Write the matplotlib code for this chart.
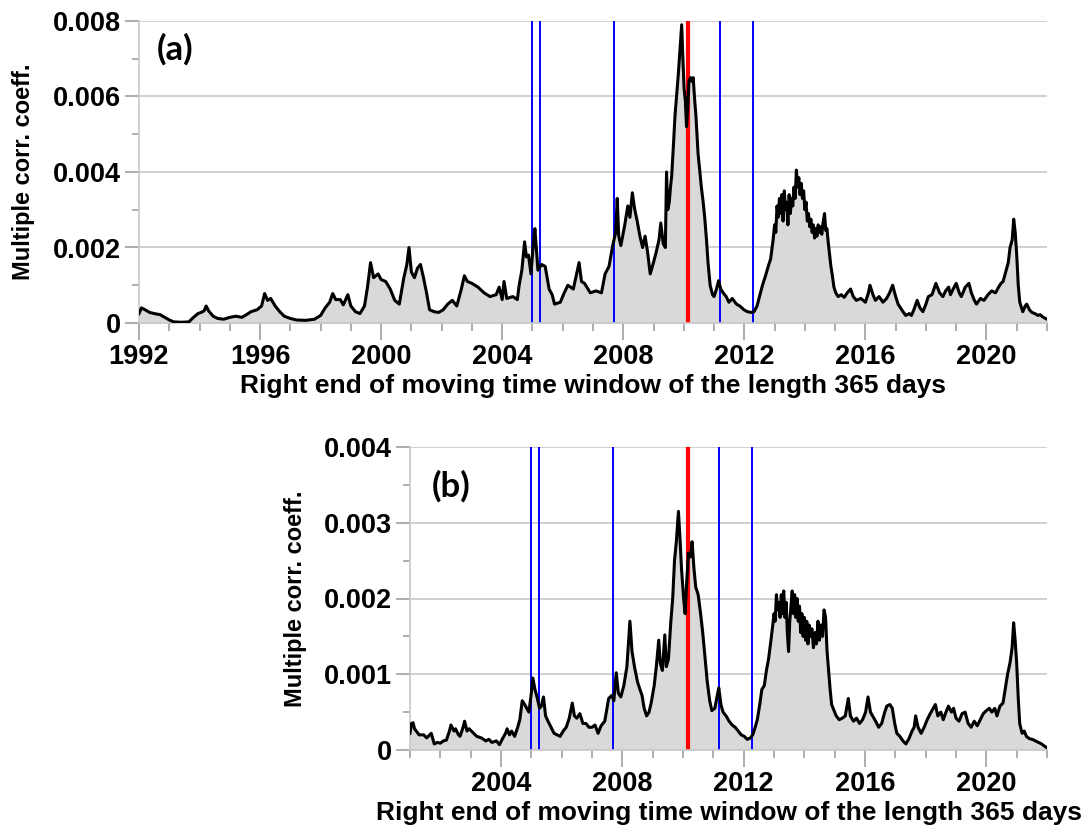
import numpy as np
import matplotlib
matplotlib.use("Agg")
import matplotlib.pyplot as plt
from matplotlib.ticker import MultipleLocator

# values, y in units of 1e-3
a_years = [
    1992.0, 1992.08, 1992.2, 1992.35, 1992.5, 1992.7, 1992.85, 1993.0, 1993.15, 1993.4,
    1993.65, 1993.8, 1993.95, 1994.05, 1994.15, 1994.22, 1994.3, 1994.45, 1994.6, 1994.8,
    1995.0, 1995.2, 1995.4, 1995.55, 1995.7, 1995.9, 1996.05, 1996.15, 1996.25, 1996.35,
    1996.5, 1996.65, 1996.8, 1997.0, 1997.2, 1997.5, 1997.8, 1998.0, 1998.15, 1998.3,
    1998.4, 1998.5, 1998.65, 1998.75, 1998.9, 1999.0, 1999.15, 1999.3, 1999.45, 1999.55,
    1999.65, 1999.75, 1999.9, 2000.0, 2000.15, 2000.3, 2000.45, 2000.6, 2000.75, 2000.85,
    2000.92, 2001.0, 2001.1, 2001.2, 2001.3, 2001.4, 2001.5, 2001.6, 2001.75, 2001.9,
    2002.05, 2002.2, 2002.35, 2002.5, 2002.65, 2002.75, 2002.85, 2003.0, 2003.2, 2003.4,
    2003.6, 2003.8, 2003.9, 2004.0, 2004.06, 2004.15, 2004.35, 2004.5, 2004.56, 2004.65,
    2004.74, 2004.8, 2004.87, 2004.95, 2005.03, 2005.08, 2005.18, 2005.3, 2005.42, 2005.55,
    2005.65, 2005.73, 2005.92, 2006.05, 2006.17, 2006.35, 2006.54, 2006.62, 2006.72, 2006.91,
    2007.1, 2007.28, 2007.4, 2007.53, 2007.65, 2007.75, 2007.8, 2007.85, 2007.92, 2008.05,
    2008.15, 2008.22, 2008.3, 2008.38, 2008.46, 2008.55, 2008.64, 2008.72, 2008.8, 2008.89,
    2008.98, 2009.08, 2009.18, 2009.24, 2009.32, 2009.39, 2009.43, 2009.47, 2009.52, 2009.56,
    2009.6, 2009.65, 2009.71, 2009.76, 2009.82, 2009.87, 2009.93, 2009.97, 2010.01, 2010.05,
    2010.09, 2010.13, 2010.17, 2010.22, 2010.27, 2010.31, 2010.36, 2010.4, 2010.47, 2010.53,
    2010.58, 2010.64, 2010.69, 2010.75, 2010.8, 2010.87, 2010.95, 2011.0, 2011.08, 2011.15,
    2011.22, 2011.3, 2011.4, 2011.49, 2011.6, 2011.74, 2011.85, 2011.99, 2012.1, 2012.23,
    2012.32, 2012.42, 2012.5, 2012.6, 2012.7, 2012.79, 2012.87, 2012.95, 2013.0, 2013.04,
    2013.08, 2013.12, 2013.16, 2013.2, 2013.24, 2013.28, 2013.32, 2013.36, 2013.4, 2013.44,
    2013.48, 2013.52, 2013.56, 2013.6, 2013.64, 2013.68, 2013.72, 2013.76, 2013.8, 2013.84,
    2013.88, 2013.92, 2013.96, 2014.0, 2014.04, 2014.08, 2014.12, 2014.16, 2014.2, 2014.24,
    2014.28, 2014.32, 2014.36, 2014.4, 2014.44, 2014.48, 2014.52, 2014.56, 2014.6, 2014.65,
    2014.69, 2014.73, 2014.77, 2014.82, 2014.86, 2014.9, 2014.96, 2015.02, 2015.1, 2015.2,
    2015.3, 2015.4, 2015.51, 2015.6, 2015.7, 2015.85, 2016.0, 2016.1, 2016.15, 2016.25,
    2016.33, 2016.45, 2016.58, 2016.7, 2016.8, 2016.9, 2017.0, 2017.08, 2017.2, 2017.33,
    2017.45, 2017.52, 2017.6, 2017.71, 2017.8, 2017.9, 2018.0, 2018.08, 2018.2, 2018.33,
    2018.45, 2018.56, 2018.65, 2018.75, 2018.81, 2018.9, 2019.0, 2019.1, 2019.17, 2019.3,
    2019.42, 2019.5, 2019.6, 2019.67, 2019.8, 2019.92, 2020.05, 2020.17, 2020.3, 2020.4,
    2020.48, 2020.55, 2020.65, 2020.72, 2020.78, 2020.85, 2020.9, 2020.95, 2021.0, 2021.05,
    2021.1, 2021.2, 2021.28, 2021.33, 2021.42, 2021.5, 2021.6, 2021.7, 2021.77, 2021.88,
    2022.0,
]
a_vals = [
    0.25, 0.40, 0.35, 0.28, 0.25, 0.22, 0.15, 0.08, 0.03, 0.02,
    0.03, 0.15, 0.25, 0.28, 0.32, 0.45, 0.32, 0.18, 0.12, 0.10,
    0.15, 0.18, 0.15, 0.22, 0.30, 0.35, 0.45, 0.78, 0.60, 0.65,
    0.45, 0.30, 0.18, 0.12, 0.08, 0.07, 0.10, 0.20, 0.40, 0.55,
    0.78, 0.62, 0.62, 0.48, 0.75, 0.45, 0.30, 0.25, 0.45, 0.95,
    1.60, 1.20, 1.30, 1.15, 1.10, 0.90, 0.60, 0.50, 1.20, 1.55,
    2.00, 1.35, 1.20, 1.45, 1.55, 1.20, 0.80, 0.35, 0.30, 0.28,
    0.35, 0.50, 0.60, 0.45, 0.90, 1.25, 1.10, 1.05, 0.95, 0.80,
    0.70, 0.75, 0.95, 0.62, 1.10, 0.65, 0.70, 0.62, 1.00, 1.40,
    2.15, 1.75, 1.80, 1.30, 2.10, 2.50, 1.40, 1.55, 1.50, 0.90,
    0.75, 0.50, 0.55, 0.80, 1.00, 0.90, 1.60, 1.10, 1.05, 0.80,
    0.85, 0.80, 1.30, 1.50, 2.05, 2.40, 3.30, 2.30, 2.05, 2.60,
    3.10, 2.80, 3.45, 3.00, 2.70, 2.30, 2.00, 2.30, 1.90, 1.30,
    1.55, 1.85, 2.20, 2.65, 2.10, 2.00, 4.00, 3.00, 3.20, 3.60,
    3.90, 4.60, 5.50, 6.00, 6.60, 7.20, 7.90, 7.00, 6.20, 5.90,
    5.20, 5.70, 6.40, 6.50, 6.40, 6.50, 5.90, 5.50, 4.50, 4.00,
    3.60, 3.20, 2.80, 2.20, 1.60, 1.00, 0.75, 0.70, 0.90, 1.12,
    0.90, 0.80, 0.70, 0.55, 0.65, 0.50, 0.45, 0.35, 0.30, 0.28,
    0.30, 0.45, 0.70, 1.00, 1.25, 1.50, 1.70, 2.20, 2.60, 2.40,
    3.10, 2.80, 3.30, 2.90, 3.40, 2.70, 3.50, 3.00, 3.20, 2.60,
    3.40, 2.90, 3.30, 3.10, 3.60, 3.30, 4.05, 3.60, 3.85, 3.40,
    3.70, 3.30, 3.50, 3.00, 3.20, 2.70, 2.90, 2.55, 2.75, 2.40,
    2.60, 2.25, 2.50, 2.30, 2.60, 2.40, 2.55, 2.35, 2.65, 2.90,
    2.45, 2.50, 2.15, 1.80, 1.50, 1.30, 0.95, 0.80, 0.70, 0.75,
    0.68, 0.80, 0.90, 0.70, 0.60, 0.65, 0.55, 0.80, 1.00, 0.75,
    0.60, 0.70, 0.55, 0.65, 0.80, 1.00, 0.70, 0.50, 0.35, 0.20,
    0.25, 0.20, 0.35, 0.60, 0.40, 0.30, 0.50, 0.70, 0.75, 1.05,
    0.80, 0.70, 0.85, 0.95, 0.75, 0.90, 1.05, 0.80, 0.70, 0.95,
    1.05, 0.80, 0.60, 0.50, 0.65, 0.60, 0.75, 0.85, 0.80, 0.95,
    1.05, 1.10, 1.40, 1.60, 2.00, 2.20, 2.75, 2.40, 1.80, 1.00,
    0.55, 0.30, 0.45, 0.50, 0.35, 0.28, 0.25, 0.20, 0.22, 0.15,
    0.10,
]

b_years = [
    2001.0, 2001.05, 2001.1, 2001.15, 2001.3, 2001.45, 2001.55, 2001.7, 2001.8, 2001.9,
    2002.0, 2002.1, 2002.2, 2002.3, 2002.35, 2002.45, 2002.5, 2002.6, 2002.65, 2002.75,
    2002.8, 2002.88, 2002.95, 2003.1, 2003.2, 2003.35, 2003.5, 2003.6, 2003.7, 2003.85,
    2003.95, 2004.05, 2004.15, 2004.2, 2004.28, 2004.35, 2004.45, 2004.55, 2004.62, 2004.7,
    2004.78, 2004.85, 2004.92, 2005.0, 2005.05, 2005.12, 2005.2, 2005.27, 2005.33, 2005.4,
    2005.47, 2005.55, 2005.65, 2005.75, 2005.85, 2005.95, 2006.05, 2006.15, 2006.25, 2006.35,
    2006.42, 2006.5, 2006.6, 2006.7, 2006.8, 2006.9, 2007.0, 2007.1, 2007.2, 2007.3,
    2007.42, 2007.55, 2007.65, 2007.72, 2007.8, 2007.87, 2007.95, 2008.05, 2008.15, 2008.25,
    2008.32, 2008.4, 2008.5, 2008.58, 2008.65, 2008.72, 2008.8, 2008.88, 2008.95, 2009.05,
    2009.12, 2009.2, 2009.25, 2009.32, 2009.4, 2009.45, 2009.52, 2009.6, 2009.66, 2009.72,
    2009.78, 2009.85, 2009.9, 2009.95, 2010.02, 2010.07, 2010.12, 2010.18, 2010.25, 2010.3,
    2010.36, 2010.42, 2010.5, 2010.58, 2010.65, 2010.72, 2010.8, 2010.88, 2010.95, 2011.05,
    2011.12, 2011.18, 2011.25, 2011.32, 2011.42, 2011.52, 2011.62, 2011.72, 2011.82, 2011.92,
    2012.02, 2012.12, 2012.22, 2012.3, 2012.38, 2012.45, 2012.53, 2012.6, 2012.68, 2012.75,
    2012.82, 2012.9, 2012.96, 2013.0, 2013.04, 2013.08, 2013.12, 2013.16, 2013.2, 2013.24,
    2013.28, 2013.32, 2013.36, 2013.4, 2013.44, 2013.48, 2013.52, 2013.56, 2013.6, 2013.64,
    2013.68, 2013.72, 2013.76, 2013.8, 2013.84, 2013.88, 2013.92, 2013.96, 2014.0, 2014.04,
    2014.08, 2014.12, 2014.16, 2014.2, 2014.25, 2014.3, 2014.35, 2014.4, 2014.45, 2014.5,
    2014.55, 2014.6, 2014.65, 2014.7, 2014.75, 2014.8, 2014.85, 2014.9, 2014.95, 2015.05,
    2015.15, 2015.25, 2015.35, 2015.45, 2015.52, 2015.62, 2015.72, 2015.82, 2015.92, 2016.02,
    2016.1, 2016.18, 2016.25, 2016.35, 2016.45, 2016.55, 2016.65, 2016.72, 2016.82, 2016.9,
    2016.98, 2017.05, 2017.15, 2017.25, 2017.35, 2017.45, 2017.55, 2017.62, 2017.67, 2017.75,
    2017.85, 2017.95, 2018.05, 2018.15, 2018.25, 2018.32, 2018.4, 2018.5, 2018.58, 2018.65,
    2018.75, 2018.85, 2018.92, 2019.0, 2019.1, 2019.2, 2019.3, 2019.4, 2019.5, 2019.6,
    2019.7, 2019.8, 2019.9, 2020.0, 2020.1, 2020.18, 2020.28, 2020.35, 2020.45, 2020.55,
    2020.62, 2020.7, 2020.78, 2020.85, 2020.9, 2020.95, 2021.0, 2021.05, 2021.1, 2021.18,
    2021.25, 2021.32, 2021.42, 2021.52, 2021.62, 2021.72, 2021.82, 2021.92, 2022.0,
]
b_vals = [
    0.22, 0.35, 0.36, 0.28, 0.20, 0.20, 0.16, 0.22, 0.08, 0.10,
    0.09, 0.12, 0.13, 0.25, 0.33, 0.25, 0.28, 0.20, 0.18, 0.30,
    0.38, 0.25, 0.28, 0.22, 0.18, 0.16, 0.12, 0.14, 0.10, 0.12,
    0.07, 0.15, 0.22, 0.28, 0.20, 0.25, 0.18, 0.30, 0.40, 0.65,
    0.60, 0.55, 0.50, 0.75, 0.95, 0.80, 0.68, 0.55, 0.58, 0.70,
    0.45, 0.38, 0.30, 0.22, 0.20, 0.18, 0.25, 0.30, 0.42, 0.62,
    0.45, 0.42, 0.48, 0.35, 0.35, 0.30, 0.30, 0.33, 0.22, 0.32,
    0.38, 0.68, 0.72, 0.65, 1.02, 0.75, 0.70, 0.85, 1.10, 1.70,
    1.30, 1.10, 0.90, 0.80, 0.72, 0.55, 0.45, 0.50, 0.62, 0.85,
    1.10, 1.45, 1.15, 1.05, 1.52, 1.10, 1.20, 1.70, 2.00, 2.50,
    2.75, 3.15, 2.80, 2.40, 2.00, 1.80, 2.20, 2.60, 2.55, 2.75,
    2.40, 2.15, 2.05, 1.80, 1.55, 1.25, 0.90, 0.65, 0.52, 0.55,
    0.70, 0.82, 0.60, 0.50, 0.45, 0.38, 0.33, 0.30, 0.25, 0.20,
    0.18, 0.14, 0.16, 0.20, 0.30, 0.40, 0.60, 0.80, 0.85, 1.05,
    1.20, 1.45, 1.65, 1.80, 1.70, 2.05, 1.85, 1.95, 1.75, 2.05,
    1.80, 2.10, 1.75, 1.95, 1.55, 1.30, 1.70, 1.90, 2.10, 1.80,
    2.05, 1.75, 2.00, 1.70, 1.90, 1.55, 1.80, 1.50, 1.75, 1.45,
    1.70, 1.40, 1.65, 1.50, 1.60, 1.35, 1.55, 1.40, 1.70, 1.45,
    1.65, 1.50, 1.85, 1.75, 1.30, 1.05, 0.80, 0.60, 0.55, 0.45,
    0.40, 0.42, 0.45, 0.68, 0.45, 0.38, 0.42, 0.35, 0.40, 0.50,
    0.70, 0.50, 0.45, 0.38, 0.30, 0.35, 0.50, 0.58, 0.60, 0.55,
    0.35, 0.22, 0.18, 0.12, 0.08, 0.15, 0.25, 0.30, 0.45, 0.30,
    0.22, 0.30, 0.40, 0.48, 0.55, 0.60, 0.45, 0.50, 0.40, 0.48,
    0.58, 0.50, 0.55, 0.42, 0.38, 0.48, 0.50, 0.35, 0.30, 0.38,
    0.32, 0.40, 0.48, 0.52, 0.55, 0.50, 0.55, 0.45, 0.58, 0.62,
    0.80, 1.00, 1.15, 1.35, 1.68, 1.45, 1.15, 0.70, 0.35, 0.22,
    0.25, 0.18, 0.15, 0.14, 0.12, 0.10, 0.08, 0.05, 0.03,
]

a_yticks = [0, 0.002, 0.004, 0.006, 0.008]
a_ytick_labels = ["0", "0.002", "0.004", "0.006", "0.008"]
a_xticks = [1992, 1996, 2000, 2004, 2008, 2012, 2016, 2020]
b_yticks = [0, 0.001, 0.002, 0.003, 0.004]
b_ytick_labels = ["0", "0.001", "0.002", "0.003", "0.004"]
b_xticks = [2004, 2008, 2012, 2016, 2020]

blue_dates = [2005.0, 2005.24, 2007.70, 2011.19, 2012.28]
red_date = 2010.15

XLABEL = "Right end of moving time window of the length 365 days"
YLABEL = "Multiple corr. coeff."

plt.rcParams["font.family"] = ["Liberation Sans", "DejaVu Sans"]
plt.rcParams["font.weight"] = "bold"

GRID = "#c8c8c8"
TICK = "#a0a0a0"


def style_axes(ax, x0, x1, yticks, ylabels, xticks):
    ax.set_xlim(x0, x1)
    ax.set_ylim(0, yticks[-1])
    ax.set_xticks(xticks)
    ax.xaxis.set_minor_locator(MultipleLocator(1))
    ax.set_yticks(yticks)
    ax.set_yticklabels(ylabels)
    ax.yaxis.set_minor_locator(MultipleLocator(yticks[1] / 2))
    ax.yaxis.grid(True, color=GRID, linewidth=1.2)
    ax.set_axisbelow(True)
    for s in ["top", "right"]:
        ax.spines[s].set_visible(False)
    for s in ["left", "bottom"]:
        ax.spines[s].set_color(GRID)
        ax.spines[s].set_linewidth(1.2)
    ax.tick_params(axis="x", which="major", length=12, width=1.2, color=TICK,
                   labelsize=19.5, pad=3)
    ax.tick_params(axis="x", which="minor", length=6, width=1.2, color=TICK)
    ax.tick_params(axis="y", which="major", length=10, width=1.2, color=TICK,
                   labelsize=19.5, pad=3)
    ax.tick_params(axis="y", which="minor", length=5, width=1.2, color=TICK)


def draw_panel(ax, years, vals, tag, tag_xy):
    x = np.array(years)
    y = np.array(vals) * 1e-3
    ax.fill_between(x, 0, y, color="#d9d9d9", linewidth=0, zorder=1)
    for d in blue_dates:
        ax.axvline(d, color="#0000ff", linewidth=1.4, zorder=2)
    ax.axvline(red_date, color="#ff0000", linewidth=3.0, zorder=2)
    ax.plot(x, y, color="black", linewidth=2.2, zorder=3)
    ax.set_xlabel(XLABEL, fontsize=19, fontweight="bold", labelpad=3)
    ax.set_ylabel(YLABEL, fontsize=17, fontweight="bold")
    ax.text(tag_xy[0], tag_xy[1], tag, transform=ax.transAxes, fontsize=25,
            fontweight="bold", family=["Lato", "DejaVu Sans"],
            ha="center", va="center")


fig = plt.figure(figsize=(10.88, 8.33), dpi=100)
ax_a = fig.add_axes([139 / 1088, 1 - 323 / 833, 908 / 1088, 302 / 833])
ax_b = fig.add_axes([410 / 1088, 1 - 750 / 833, 637 / 1088, 303 / 833])

draw_panel(ax_a, a_years, a_vals, "(a)", (0.04, 0.905))
style_axes(ax_a, 1992, 2022, a_yticks, a_ytick_labels, a_xticks)

draw_panel(ax_b, b_years, b_vals, "(b)", (0.065, 0.87))
style_axes(ax_b, 2001, 2022, b_yticks, b_ytick_labels, b_xticks)

ax_a.yaxis.set_label_coords(-0.114, 0.5)
ax_b.yaxis.set_label_coords(-0.162, 0.5)

fig.savefig("out.png", dpi=100)
